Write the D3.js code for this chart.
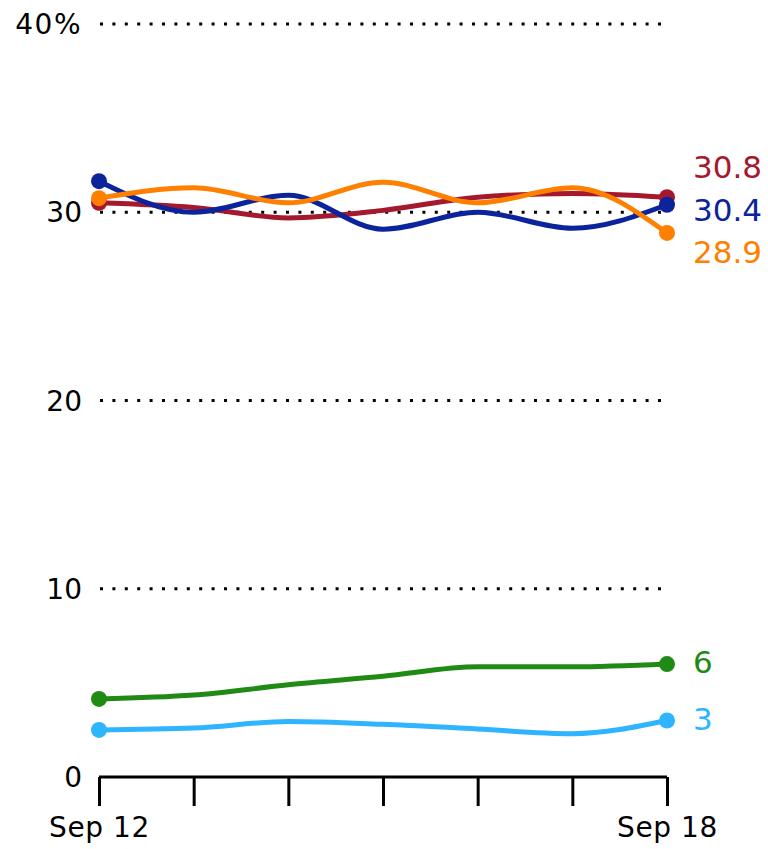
<!DOCTYPE html>
<html>
<head>
<meta charset="utf-8">
<script src="https://cdn.jsdelivr.net/npm/d3@7"></script>
<style>
  body { margin: 0; background: #fff; }
  text { font-family: "DejaVu Sans", Verdana, sans-serif; }
</style>
</head>
<body>
<div id="chart"></div>
<script>
const days = ["Sep 12", "Sep 13", "Sep 14", "Sep 15", "Sep 16", "Sep 17", "Sep 18"];
const seriesNames = ["red", "blue", "orange", "green", "lightblue"];
const redValues = [30.5, 30.25, 29.7, 30.1, 30.8, 31.0, 30.8];
const blueValues = [31.65, 30.0, 30.9, 29.1, 30.0, 29.15, 30.4];
const orangeValues = [30.75, 31.3, 30.5, 31.6, 30.5, 31.3, 28.9];
const greenValues = [4.15, 4.35, 4.9, 5.35, 5.85, 5.85, 6];
const lightBlueValues = [2.5, 2.6, 2.95, 2.8, 2.55, 2.3, 3];
const endLabels = ["30.8", "30.4", "28.9", "6", "3"];
const yTicks = [0, 10, 20, 30, 40];

const colors = {
    red: "#a5192f",
    blue: "#0b249c",
    orange: "#ff8000",
    green: "#1f8a14",
    lightblue: "#2fb4ff"
};

const width = 768;
const height = 849;

const svg = d3.select("#chart")
    .append("svg")
    .attr("width", width)
    .attr("height", height);

const scaleX = d3.scalePoint()
    .domain(days)
    .range([99, 667]);

const scaleY = d3.scaleLinear()
    .domain([0, 40])
    .range([777, 24]);

// dotted gridlines
const grid = svg.append("g").attr("class", "grid");
grid.selectAll("line")
    .data(yTicks.filter(d => d > 0))
    .enter()
    .append("line")
    .attr("x1", 100)
    .attr("x2", 667)
    .attr("y1", d => scaleY(d))
    .attr("y2", d => scaleY(d))
    .attr("stroke", "#000")
    .attr("stroke-width", 3)
    .attr("stroke-dasharray", "3 9.4");

// y labels
svg.append("g")
    .selectAll("text")
    .data(yTicks)
    .enter()
    .append("text")
    .attr("x", 82)
    .attr("y", d => scaleY(d))
    .attr("dy", "0.36em")
    .attr("text-anchor", "end")
    .attr("font-size", 28)
    .attr("fill", "#000")
    .attr("letter-spacing", d => d === 40 ? 1.5 : 0)
    .text(d => d === 40 ? "40%" : d);

// x axis
const xAxis = d3.axisBottom(scaleX)
    .tickSize(29)
    .tickSizeOuter(0)
    .tickFormat(d => (d === days[0] || d === days[days.length - 1]) ? d : "");
const groupAxisX = svg.append("g")
    .attr("transform", `translate(0, ${scaleY(0)})`)
    .call(xAxis);
groupAxisX.select(".domain")
    .attr("stroke", "#000")
    .attr("stroke-width", 3)
    .attr("d", `M${scaleX(days[0])},0H${scaleX(days[days.length - 1])}`);
groupAxisX.selectAll(".tick line")
    .attr("stroke", "#000")
    .attr("stroke-width", 3);
groupAxisX.selectAll(".tick text")
    .attr("font-family", "DejaVu Sans, Verdana, sans-serif")
    .attr("font-size", 28)
    .attr("letter-spacing", 0.6)
    .attr("fill", "#000")
    .attr("y", 40)
    .attr("dy", "0.71em");

// lines
const allValues = [redValues, blueValues, orangeValues, greenValues, lightBlueValues];
const series = seriesNames.map((name, i) => ({
    name: name,
    values: allValues[i],
    label: endLabels[i]
}));

const line = d3.line()
    .x((d, i) => scaleX(days[i]))
    .y(d => scaleY(d))
    .curve(d3.curveMonotoneX);

const groupLines = svg.append("g").attr("class", "lines");
series.forEach(s => {
    const g = groupLines.append("g");
    g.append("path")
        .attr("d", line(s.values))
        .attr("fill", "none")
        .attr("stroke", colors[s.name])
        .attr("stroke-width", 5)
        .attr("stroke-linecap", "round");
    g.selectAll("circle")
        .data([0, s.values.length - 1])
        .enter()
        .append("circle")
        .attr("cx", i => scaleX(days[i]))
        .attr("cy", i => scaleY(s.values[i]))
        .attr("r", 8)
        .attr("fill", colors[s.name]);
});

// end labels, nudged apart so they don't overlap
const labelPos = series.map(s => ({
    s: s,
    y: scaleY(s.values[s.values.length - 1])
}));
labelPos.sort((a, b) => a.y - b.y);
const minGap = 42.5;
for (let iter = 0; iter < 200; iter++) {
    for (let i = 1; i < labelPos.length; i++) {
        const gap = labelPos[i].y - labelPos[i - 1].y;
        if (gap < minGap) {
            const push = (minGap - gap) / 2;
            labelPos[i].y += push;
            labelPos[i - 1].y -= push;
        }
    }
}

svg.append("g")
    .selectAll("text")
    .data(labelPos)
    .enter()
    .append("text")
    .attr("x", 693)
    .attr("y", d => d.y - 2)
    .attr("dy", "0.36em")
    .attr("font-size", 31)
    .attr("fill", d => colors[d.s.name])
    .text(d => d.s.label);
</script>
</body>
</html>
